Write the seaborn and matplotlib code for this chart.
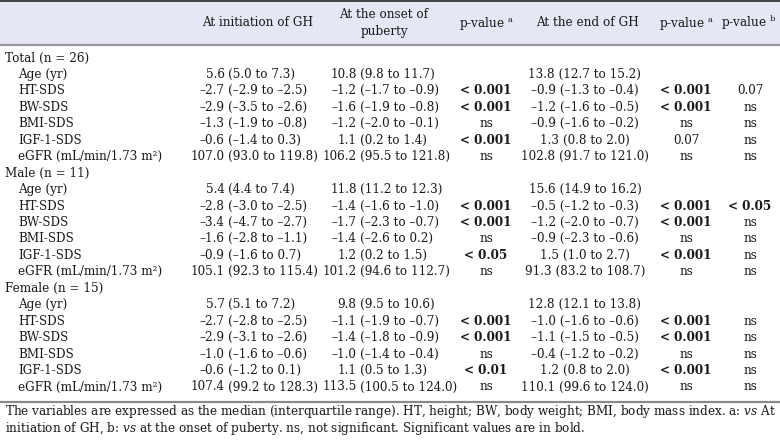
import matplotlib
matplotlib.use("Agg")
import matplotlib.pyplot as plt
import seaborn as sns
from matplotlib.patches import Rectangle

# ---------------- data ----------------
group_titles = ["Total (n = 26)", "Male (n = 11)", "Female (n = 15)"]
variables = ["Age (yr)", "HT-SDS", "BW-SDS", "BMI-SDS", "IGF-1-SDS",
             "eGFR (mL/min/1.73 m\u00b2)"]
column_headers = ["At initiation of GH", "At the onset of\npuberty",
                  "p-value $^{\\rm a}$", "At the end of GH",
                  "p-value $^{\\rm a}$", "p-value $^{\\rm b}$"]

at_initiation = [
    "5.6 (5.0 to 7.3)", "–2.7 (–2.9 to –2.5)", "–2.9 (–3.5 to –2.6)",
    "–1.3 (–1.9 to –0.8)", "–0.6 (–1.4 to 0.3)", "107.0 (93.0 to 119.8)",
    "5.4 (4.4 to 7.4)", "–2.8 (–3.0 to –2.5)", "–3.4 (–4.7 to –2.7)",
    "–1.6 (–2.8 to –1.1)", "–0.9 (–1.6 to 0.7)", "105.1 (92.3 to 115.4)",
    "5.7 (5.1 to 7.2)", "–2.7 (–2.8 to –2.5)", "–2.9 (–3.1 to –2.6)",
    "–1.0 (–1.6 to –0.6)", "–0.6 (–1.2 to 0.1)", "107.4 (99.2 to 128.3)",
]
at_onset = [
    "10.8 (9.8 to 11.7)", "–1.2 (–1.7 to –0.9)", "–1.6 (–1.9 to –0.8)",
    "–1.2 (–2.0 to –0.1)", "1.1 (0.2 to 1.4)", "106.2 (95.5 to 121.8)",
    "11.8 (11.2 to 12.3)", "–1.4 (–1.6 to –1.0)", "–1.7 (–2.3 to –0.7)",
    "–1.4 (–2.6 to 0.2)", "1.2 (0.2 to 1.5)", "101.2 (94.6 to 112.7)",
    "9.8 (9.5 to 10.6)", "–1.1 (–1.9 to –0.7)", "–1.4 (–1.8 to –0.9)",
    "–1.0 (–1.4 to –0.4)", "1.1 (0.5 to 1.3)", "113.5 (100.5 to 124.0)",
]
p_onset_vs_init = [
    "", "< 0.001", "< 0.001", "ns", "< 0.001", "ns",
    "", "< 0.001", "< 0.001", "ns", "< 0.05", "ns",
    "", "< 0.001", "< 0.001", "ns", "< 0.01", "ns",
]
at_end = [
    "13.8 (12.7 to 15.2)", "–0.9 (–1.3 to –0.4)", "–1.2 (–1.6 to –0.5)",
    "–0.9 (–1.6 to –0.2)", "1.3 (0.8 to 2.0)", "102.8 (91.7 to 121.0)",
    "15.6 (14.9 to 16.2)", "–0.5 (–1.2 to –0.3)", "–1.2 (–2.0 to –0.7)",
    "–0.9 (–2.3 to –0.6)", "1.5 (1.0 to 2.7)", "91.3 (83.2 to 108.7)",
    "12.8 (12.1 to 13.8)", "–1.0 (–1.6 to –0.6)", "–1.1 (–1.5 to –0.5)",
    "–0.4 (–1.2 to –0.2)", "1.2 (0.8 to 2.0)", "110.1 (99.6 to 124.0)",
]
p_end_vs_init = [
    "", "< 0.001", "< 0.001", "ns", "0.07", "ns",
    "", "< 0.001", "< 0.001", "ns", "< 0.001", "ns",
    "", "< 0.001", "< 0.001", "ns", "< 0.001", "ns",
]
p_end_vs_onset = [
    "", "0.07", "ns", "ns", "ns", "ns",
    "", "< 0.05", "ns", "ns", "ns", "ns",
    "", "ns", "ns", "ns", "ns", "ns",
]
footnote_lines = [
    "The variables are expressed as the median (interquartile range). HT, height; "
    "BW, body weight; BMI, body mass index. a: $\\mathit{vs}$ At",
    "initiation of GH, b: $\\mathit{vs}$ at the onset of puberty. ns, not significant. "
    "Significant values are in bold.",
]

# ---------------- style ----------------
sns.set_theme(style="white")
FONT = "DejaVu Serif"
plt.rcParams["font.family"] = [FONT, "DejaVu Sans"]
plt.rcParams["mathtext.fontset"] = "custom"
plt.rcParams["mathtext.rm"] = FONT
plt.rcParams["mathtext.it"] = FONT + ":italic"
plt.rcParams["mathtext.bf"] = FONT + ":bold"

W, H = 780, 440
fig = plt.figure(figsize=(W / 100, H / 100), dpi=100)
ax = fig.add_axes([0, 0, 1, 1])
ax.set_xlim(0, W)
ax.set_ylim(H, 0)
ax.axis("off")

TEXT = "#1a1a1a"

# fit font size to footnote width
probe = ax.text(5, 411, footnote_lines[0], fontsize=10, ha="left", va="center")
fig.canvas.draw()
wpx = probe.get_window_extent(fig.canvas.get_renderer()).width
probe.remove()
FS = 10 * 770 / wpx

# header band and rules
ax.add_patch(Rectangle((0, 1.5), W, 43, facecolor="#e5e8f4", edgecolor="none", zorder=0))
ax.plot([0, W], [1.2, 1.2], color="#333333", lw=1.3, solid_capstyle="butt")
ax.plot([0, W], [45, 45], color="#9a9a9a", lw=1.6, solid_capstyle="butt")
ax.plot([0, W], [402.5, 402.5], color="#8a8a8a", lw=1.6, solid_capstyle="butt")

head_x = [258, 384, 486, 587, 686, 749]
for x, h in zip(head_x, column_headers):
    ax.text(x, 23, h, fontsize=FS, ha="center", va="center", color=TEXT,
            linespacing=1.3)

columns = [at_initiation, at_onset, p_onset_vs_init, at_end,
           p_end_vs_init, p_end_vs_onset]
# (kind, x): "paren" = first number right-aligned before "(" anchor, "center" otherwise
col_layout = [("paren", 228), ("paren", 360), ("center", 486),
              ("center", 585), ("center", 686), ("center", 750)]

y0, dy = 58, 16.45
k = 0
idx = 0
for g, title in enumerate(group_titles):
    ax.text(5, y0 + k * dy, title, fontsize=FS, ha="left", va="center", color=TEXT)
    k += 1
    for v in variables:
        y = y0 + k * dy
        ax.text(18, y, v, fontsize=FS, ha="left", va="center", color=TEXT)
        for c, col in enumerate(columns):
            s = col[idx]
            if not s:
                continue
            kind, x = col_layout[c]
            bold = s.startswith("<")
            if kind == "paren" and " (" in s:
                num, rest = s.split(" (", 1)
                ax.text(x - 3.3, y, num, fontsize=FS, ha="right", va="center", color=TEXT)
                ax.text(x, y, "(" + rest, fontsize=FS, ha="left", va="center", color=TEXT)
            else:
                ax.text(x, y, s, fontsize=FS, ha="center", va="center",
                        color=TEXT, fontweight="bold" if bold else "normal")
        k += 1
        idx += 1

for i, line in enumerate(footnote_lines):
    ax.text(5, 411 + i * 17.5, line, fontsize=FS, ha="left", va="center", color=TEXT)

fig.savefig("out.png", dpi=100, facecolor="white")
